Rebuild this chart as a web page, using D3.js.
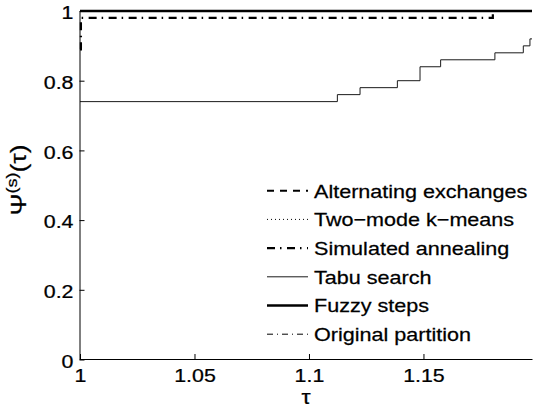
<!DOCTYPE html>
<html><head><meta charset="utf-8">
<script src="https://cdn.jsdelivr.net/npm/d3@7"></script>
<style>
body{margin:0;background:#fff}
svg text{font-family:"Liberation Sans",Arial,Helvetica,sans-serif;font-size:18.6px;fill:#000;stroke:#000;stroke-width:0.25px}
.wc{transform-box:fill-box;transform-origin:50% 50%;transform:scaleX(1.15)}
.wr{transform-box:fill-box;transform-origin:100% 50%;transform:scaleX(1.15)}
.wl{transform-box:fill-box;transform-origin:0% 50%;transform:scaleX(1.16)}
.yl{transform-box:fill-box;transform-origin:50% 50%;transform:scaleX(1.2)}
</style></head><body>
<svg id="chart" width="533" height="411"></svg>
<script>
// Axis ticks
const xTicks = [1, 1.05, 1.1, 1.15];
const xTickLabels = ["1", "1.05", "1.1", "1.15"];
const yTicks = [0, 0.2, 0.4, 0.6, 0.8, 1];
const yTickLabels = ["0", "0.2", "0.4", "0.6", "0.8", "1"];
const tauMax = 1.1974;

// Performance profiles: tau (ratio) and fraction of problems
const altTau = [1, 1.1974];
const altVal = [1, 1];
const kmTau = [1, 1.1974];
const kmVal = [1, 1];
const saTau = [1, 1.0004, 1.1803, 1.1974];
const saVal = [0.89, 0.98, 1, 1];
const tabuTau = [1, 1.1124, 1.1223, 1.1386, 1.1485, 1.1575, 1.1812, 1.1936, 1.1965, 1.1974];
const tabuVal = [0.74, 0.76, 0.78, 0.80, 0.84, 0.86, 0.88, 0.90, 0.92, 0.92];
const fuzzyTau = [1, 1.1974];
const fuzzyVal = [1, 1];
const origTau = [1, 1.1974];
const origVal = [0, 0];

const seriesNames = ["Alternating exchanges", "Two\u2212mode k\u2212means", "Simulated annealing",
                     "Tabu search", "Fuzzy steps", "Original partition"];

const styles = [
  {w: 2, dash: "7,6", color: "#000"},
  {w: 1, dash: "1,3", color: "#000"},
  {w: 2.2, dash: "8,5,1.5,5.5", color: "#000"},
  {w: 1, dash: null, color: "#1a1a1a"},
  {w: 2.6, dash: null, color: "#000"},
  {w: 1, dash: "6,4,1,4", color: "#000"}
];
const taus = [altTau, kmTau, saTau, tabuTau, fuzzyTau, origTau];
const vals = [altVal, kmVal, saVal, tabuVal, fuzzyVal, origVal];

const svg = d3.select("#chart");
const x = d3.scaleLinear().domain([1, tauMax]).range([80, 532]);
const y = d3.scaleLinear().domain([0, 1]).range([359.5, 11]);

const line = d3.line().x(d => x(d[0])).y(d => y(d[1])).curve(d3.curveStepAfter);

// draw order: keep the thick solid line on top
const order = [5, 0, 1, 3, 2, 4];
order.forEach(i => {
  const pts = taus[i].map((t, k) => [t, vals[i][k]]);
  svg.append("path")
    .attr("d", line(pts))
    .attr("fill", "none")
    .attr("stroke", styles[i].color)
    .attr("stroke-width", styles[i].w)
    .attr("stroke-dasharray", styles[i].dash);
});

// Axes with inward ticks
const xAxis = d3.axisBottom(x).tickValues(xTicks)
  .tickFormat((d, i) => xTickLabels[i]).tickSize(-5).tickSizeOuter(0).tickPadding(10);
const gx = svg.append("g").attr("transform", "translate(0,359)").call(xAxis);
gx.selectAll("text").attr("class", "wc").style("font-size", "18.6px")
  .style("font-family", "Liberation Sans, Arial, sans-serif");

const yAxis = d3.axisLeft(y).tickValues(yTicks)
  .tickFormat((d, i) => yTickLabels[i]).tickSize(-5).tickSizeOuter(0).tickPadding(6);
const gy = svg.append("g").attr("transform", "translate(79.5,0)").call(yAxis);
gy.selectAll("text").attr("class", "wr").attr("dy", "0.42em").style("font-size", "18.6px")
  .style("font-family", "Liberation Sans, Arial, sans-serif");

[gx, gy].forEach(g => {
  g.select(".domain").attr("stroke", "#000").attr("stroke-width", 1);
  g.selectAll(".tick line").attr("stroke", "#000").attr("stroke-width", 1);
});

// Axis titles
svg.append("text").attr("class", "wc").attr("x", 306).attr("y", 404)
  .attr("text-anchor", "middle").style("font-size", "20px").text("\u03C4");

const yl = svg.append("g").attr("transform", "translate(26,180) rotate(-90)")
  .append("text").attr("class", "yl").attr("text-anchor", "middle").style("font-size", "22px");
yl.append("tspan").text("\u03A8");
yl.append("tspan").attr("dy", -9).style("font-size", "15px").text("(s)");
yl.append("tspan").attr("dy", 9).text("(\u03C4)");

// Legend
const legY0 = 190.7, legStep = 28.7;
seriesNames.forEach((name, i) => {
  const yy = legY0 + i * legStep;
  svg.append("line").attr("x1", 267).attr("x2", 308).attr("y1", yy).attr("y2", yy)
    .attr("stroke", styles[i].color).attr("stroke-width", styles[i].w)
    .attr("stroke-dasharray", styles[i].dash);
  svg.append("text").attr("class", "wl").attr("x", 314).attr("y", yy + 7).text(name);
});
</script>
</body></html>
